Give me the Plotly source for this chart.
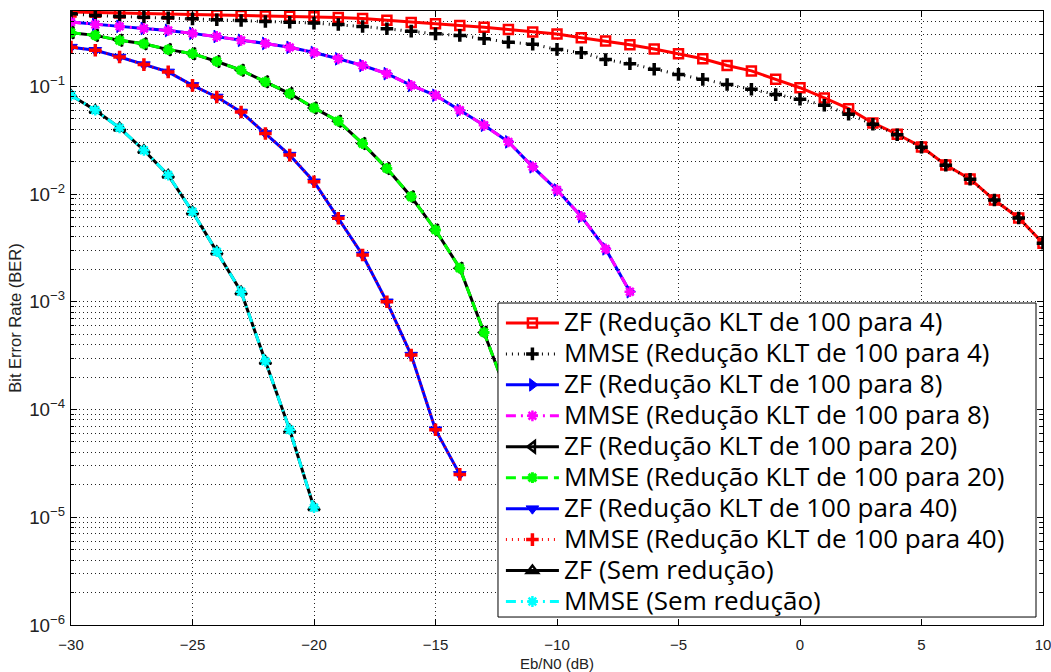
import plotly.graph_objects as go

# Eb/N0 axes (dB) for each family of curves
snr_4 = list(range(-30, 11))
snr_8 = list(range(-30, -6))
snr_20 = list(range(-30, -11))
snr_40 = list(range(-30, -13))
snr_full = list(range(-30, -19))

# BER values
zf_4 = [0.490, 0.487, 0.480, 0.474, 0.470, 0.465, 0.459, 0.455, 0.450, 0.446,
        0.442, 0.435, 0.425, 0.410, 0.392, 0.381, 0.367, 0.354, 0.337, 0.320,
        0.306, 0.282, 0.263, 0.243, 0.222, 0.201, 0.180, 0.156, 0.139, 0.116,
        0.097, 0.078, 0.062, 0.0457, 0.0359, 0.0274, 0.0186, 0.0138, 0.0088,
        0.0060, 0.0035]
mmse_4 = [0.471, 0.454, 0.445, 0.438, 0.432, 0.423, 0.415, 0.408, 0.400, 0.393,
          0.386, 0.375, 0.359, 0.342, 0.325, 0.307, 0.297, 0.276, 0.257, 0.246,
          0.220, 0.205, 0.177, 0.162, 0.144, 0.129, 0.116, 0.104, 0.094, 0.0838,
          0.0758, 0.0667, 0.0551, 0.0445, 0.0355, 0.0272, 0.0185, 0.0137, 0.0088,
          0.0060, 0.0035]
zf_8 = [0.395, 0.375, 0.360, 0.344, 0.330, 0.310, 0.290, 0.267, 0.250, 0.230,
        0.206, 0.180, 0.156, 0.131, 0.102, 0.0826, 0.060, 0.0435, 0.0305, 0.0179,
        0.0109, 0.0062, 0.0031, 0.00124]
mmse_8 = [0.395, 0.375, 0.360, 0.344, 0.330, 0.310, 0.290, 0.267, 0.250, 0.230,
          0.206, 0.180, 0.156, 0.131, 0.102, 0.0826, 0.060, 0.0435, 0.0305, 0.0179,
          0.0109, 0.0062, 0.0031, 0.00124]
zf_20 = [0.315, 0.297, 0.267, 0.248, 0.219, 0.201, 0.170, 0.141, 0.110, 0.0856,
         0.063, 0.0475, 0.0294, 0.0173, 0.00944, 0.00464, 0.00205, 0.00052, 0.00013]
mmse_20 = [0.315, 0.297, 0.267, 0.248, 0.219, 0.201, 0.170, 0.141, 0.110, 0.0856,
           0.063, 0.0475, 0.0294, 0.0173, 0.00944, 0.00464, 0.00205, 0.00052, 0.00013]
zf_40 = [0.231, 0.216, 0.187, 0.159, 0.136, 0.102, 0.0796, 0.0578, 0.0365, 0.0230,
         0.0130, 0.00596, 0.00272, 0.00100, 0.00032, 0.000065, 0.000025]
mmse_40 = [0.231, 0.216, 0.187, 0.159, 0.136, 0.102, 0.0796, 0.0578, 0.0365, 0.0230,
           0.0130, 0.00596, 0.00272, 0.00100, 0.00032, 0.000065, 0.000025]
zf_full = [0.0826, 0.060, 0.0411, 0.0255, 0.0150, 0.00686, 0.00292, 0.00124,
           0.00028, 0.000065, 0.0000123]
mmse_full = [0.0826, 0.060, 0.0411, 0.0255, 0.0150, 0.00686, 0.00292, 0.00124,
             0.00028, 0.000065, 0.0000123]

names = [
    "ZF (Redução KLT de 100 para 4)",
    "MMSE (Redução KLT de 100 para 4)",
    "ZF (Redução KLT de 100 para 8)",
    "MMSE (Redução KLT de 100 para 8)",
    "ZF (Redução KLT de 100 para 20)",
    "MMSE (Redução KLT de 100 para 20)",
    "ZF (Redução KLT de 100 para 40)",
    "MMSE (Redução KLT de 100 para 40)",
    "ZF (Sem redução)",
    "MMSE (Sem redução)",
]

# (x, y, color, dash, symbol, marker size, marker stroke)
styles = [
    (snr_4, zf_4, "#ff0000", "solid", "square-open", 9, 2.5),
    (snr_4, mmse_4, "#000000", "1px,5px", "cross-thin-open", 9, 3.5),
    (snr_8, zf_8, "#0000ff", "solid", "triangle-right", 11, 1),
    (snr_8, mmse_8, "#ff00ff", "10px,5px,2px,5px", "asterisk-open", 9, 2.5),
    (snr_20, zf_20, "#000000", "solid", "triangle-left-open", 10, 2.5),
    (snr_20, mmse_20, "#00ff00", "10px,6px", "asterisk-open", 9, 3),
    (snr_40, zf_40, "#0000ff", "solid", "triangle-down", 11, 1),
    (snr_40, mmse_40, "#ff0000", "1px,5px", "cross-thin-open", 9, 3.5),
    (snr_full, zf_full, "#000000", "solid", "triangle-up-open", 10, 2.5),
    (snr_full, mmse_full, "#00ffff", "10px,5px,2px,5px", "asterisk-open", 9, 2.5),
]

# legend entries use a larger glyph size than the row pitch set by legend.font
LEGEND_TEXT_PX = 26

fig = go.Figure()
for name, (xs, ys, color, dash, symbol, size, stroke) in zip(names, styles):
    fig.add_trace(go.Scatter(
        x=xs, y=ys, mode="lines+markers",
        name=f'<span style="font-size:{LEGEND_TEXT_PX}px">{name}</span>',
        line=dict(color=color, width=3, dash=dash),
        marker=dict(symbol=symbol, size=size, color=color,
                    line=dict(color=color, width=stroke)),
    ))

grid_col = "#222222"
label_font = dict(family="Liberation Sans, Arial, sans-serif", size=15, color="#222")

# legend frame (paper coordinates of the plotting area)
leg_x0, leg_x1 = 0.4393, 0.9928
leg_y0, leg_y1 = 0.013, 0.5244
fig.add_shape(type="rect", xref="paper", yref="paper",
              x0=leg_x0, x1=leg_x1, y0=leg_y0, y1=leg_y1,
              fillcolor="white", line=dict(color="black", width=1), layer="above")

fig.update_layout(
    width=1051, height=672,
    margin=dict(l=71, r=8, t=11, b=47, autoexpand=False),
    paper_bgcolor="white", plot_bgcolor="white",
    showlegend=True,
    legend=dict(
        x=leg_x0 + 0.003, y=0.5253, xanchor="left", yanchor="top",
        bgcolor="rgba(0,0,0,0)", borderwidth=0,
        font=dict(family="Open Sans, sans-serif", size=21.5, color="black"),
        itemwidth=53, tracegroupgap=0,
    ),
    xaxis=dict(
        range=[-30, 10], dtick=5, tick0=0, automargin=False,
        showgrid=True, gridcolor=grid_col, griddash="1px,3px", gridwidth=1,
        zeroline=False, showline=True, linecolor="black", linewidth=1,
        mirror="ticks", ticks="inside", ticklen=6, tickcolor="black",
        tickfont=label_font, ticklabelstandoff=6, ticklabeloverflow="allow",
        title=dict(text="Eb/N0 (dB)", standoff=8, font=label_font),
    ),
    yaxis=dict(
        type="log", range=[-6, -0.301], dtick=1, automargin=False,
        exponentformat="power", showexponent="all",
        showgrid=True, gridcolor=grid_col, griddash="1px,3px", gridwidth=1,
        zeroline=False, showline=True, linecolor="black", linewidth=1,
        mirror="ticks", ticks="inside", ticklen=6, tickcolor="black",
        tickfont=label_font, ticklabelstandoff=2, ticklabeloverflow="allow",
        minor=dict(ticks="inside", ticklen=3, tickcolor="black",
                   showgrid=True, gridcolor=grid_col, griddash="1px,3px", gridwidth=1),
        title=dict(text="Bit Error Rate (BER)", standoff=3,
                   font=dict(family="Liberation Sans, Arial, sans-serif", size=16.5, color="#222")),
    ),
)

fig.write_html("out.html")
